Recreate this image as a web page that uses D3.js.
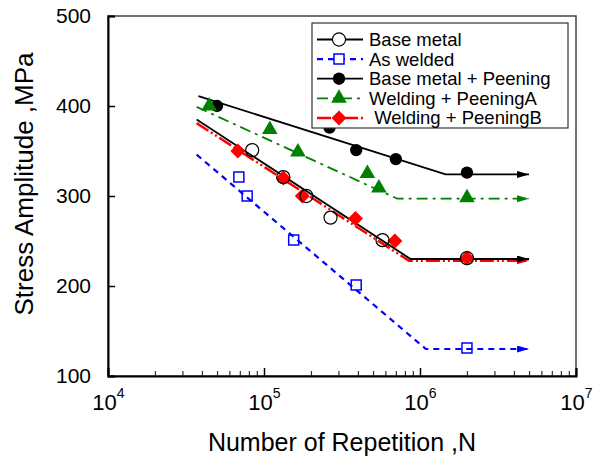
<!DOCTYPE html>
<html>
<head>
<meta charset="utf-8">
<script src="https://cdn.jsdelivr.net/npm/d3@7"></script>
<style>
  body { margin: 0; background: #fff; }
  text { font-family: "Liberation Sans", Arial, sans-serif; fill: #000; }
</style>
</head>
<body>
<svg id="chart" width="595" height="466"></svg>
<script>
// test points (cycles, stress amplitude MPa)
const baseN = [8.4e4, 1.33e5, 1.87e5, 2.67e5, 5.75e5, 2e6];
const baseS = [351, 321, 300, 276, 251, 231];
const weldN = [6.9e4, 7.8e4, 1.55e5, 3.9e5, 2e6];
const weldS = [321, 300, 251, 201, 131];
const basePeenN = [5e4, 2.63e5, 3.9e5, 7e5, 2e6];
const basePeenS = [400, 376, 351, 341, 326];
const peenAN = [4.45e4, 1.09e5, 1.65e5, 4.6e5, 5.45e5, 2e6];
const peenAS = [400, 374, 349, 325, 309, 298];
const peenBN = [6.8e4, 1.33e5, 1.76e5, 3.86e5, 6.9e5, 2e6];
const peenBS = [350, 320, 300, 275, 250, 231];

// S-N fit lines: start, knee, run-out arrow
const baseFitN = [3.7e4, 8.7e5, 5e6];
const baseFitS = [385, 230, 230];
const weldFitN = [3.7e4, 1.09e6, 5e6];
const weldFitS = [346, 130, 130];
const basePeenFitN = [3.8e4, 1.46e6, 5e6];
const basePeenFitS = [411, 324, 324];
const peenAFitN = [3.7e4, 7.15e5, 5e6];
const peenAFitS = [399, 297, 297];
const peenBFitN = [3.7e4, 8.5e5, 5e6];
const peenBFitS = [381, 228, 228];

const xTicks = [1e4, 1e5, 1e6, 1e7];
const yTicks = [100, 200, 300, 400, 500];

const series = [
  { name: "Base metal", n: baseN, s: baseS, fn: baseFitN, fs: baseFitS,
    color: "#000", dash: null, width: 1.8, shape: "circle", fill: "none" },
  { name: "As welded", n: weldN, s: weldS, fn: weldFitN, fs: weldFitS,
    color: "#0000ff", dash: "6,5", width: 2.2, shape: "square", fill: "none" },
  { name: "Base metal + Peening", n: basePeenN, s: basePeenS, fn: basePeenFitN, fs: basePeenFitS,
    color: "#000", dash: null, width: 1.8, shape: "circle", fill: "#000" },
  { name: "Welding + PeeningA", n: peenAN, s: peenAS, fn: peenAFitN, fs: peenAFitS,
    color: "#008000", dash: "11,5,3,5", width: 1.8, shape: "triangle", fill: "#008000" },
  { name: " Welding + PeeningB", n: peenBN, s: peenBS, fn: peenBFitN, fs: peenBFitS,
    color: "#ff0000", dash: "14,3,2,3,2,3", width: 2.5, shape: "diamond", fill: "#ff0000" }
];

const svg = d3.select("#chart");
const m = { left: 108, right: 19, top: 16, bottom: 90 };
const W = 595 - m.left - m.right;
const H = 466 - m.top - m.bottom;

const x = d3.scaleLog().domain([1e4, 1e7]).range([0, W]);
const y = d3.scaleLinear().domain([100, 500]).range([H, 0]);

const g = svg.append("g").attr("transform", `translate(${m.left},${m.top})`);

// arrow heads
const defs = svg.append("defs");
series.forEach((d, i) => {
  defs.append("marker")
    .attr("id", "arrow" + i)
    .attr("markerUnits", "userSpaceOnUse")
    .attr("markerWidth", 14).attr("markerHeight", 10)
    .attr("refX", 12).attr("refY", 3.5)
    .attr("orient", "auto")
    .append("path")
    .attr("d", "M0,0L12,3.5L0,7Z")
    .attr("fill", d.color);
});

// frame
g.append("rect")
  .attr("width", W).attr("height", H)
  .attr("fill", "none").attr("stroke", "#444").attr("stroke-width", 1.5);

// x axis, inward ticks with minors
const minor = [];
for (let e = 4; e < 7; e++) for (let k = 2; k < 10; k++) minor.push(k * Math.pow(10, e));

g.append("g")
  .attr("transform", `translate(0,${H})`)
  .call(d3.axisBottom(x).tickValues(minor).tickSize(-5).tickFormat(""))
  .call(a => a.select(".domain").remove())
  .call(a => a.selectAll("line").attr("stroke", "#333").attr("stroke-width", 1.2));

const xAxis = g.append("g")
  .attr("transform", `translate(0,${H})`)
  .call(d3.axisBottom(x).tickValues(xTicks).tickSize(-8).tickFormat(""));
xAxis.select(".domain").attr("stroke", "#000").attr("stroke-width", 2);
xAxis.selectAll("line").attr("stroke", "#000").attr("stroke-width", 1.5);

const xl = xAxis.selectAll(".tick").append("text")
  .attr("y", 34).attr("text-anchor", "middle")
  .style("font-size", "22px");
xl.append("tspan").text("10");
xl.append("tspan").attr("dy", -12).style("font-size", "14px")
  .text(d => Math.round(Math.log10(d)));

// y axis
const yAxis = g.append("g")
  .call(d3.axisLeft(y).tickValues(yTicks).tickSize(-7).tickPadding(17));
yAxis.select(".domain").attr("stroke", "#000").attr("stroke-width", 2);
yAxis.selectAll("line").attr("stroke", "#000").attr("stroke-width", 1.5);
yAxis.selectAll("text")
  .style("font-size", "21px")
  .style("font-family", '"Liberation Sans", Arial, sans-serif');

// axis titles
svg.append("text")
  .attr("x", m.left + W / 2).attr("y", 451)
  .attr("text-anchor", "middle")
  .style("font-size", "25px")
  .text("Number of Repetition ,N");

svg.append("text")
  .attr("transform", `translate(33,${m.top + H / 2 - 12}) rotate(-90)`)
  .attr("text-anchor", "middle")
  .style("font-size", "26px")
  .text("Stress Amplitude ,MPa");

// fit lines
const line = d3.line().x(d => x(d[0])).y(d => y(d[1]));
const drawOrder = [4, 3, 1, 0, 2];
drawOrder.forEach(i => {
  const d = series[i];
  g.append("path")
    .datum(d3.zip(d.fn, d.fs))
    .attr("d", line)
    .attr("fill", "none")
    .attr("stroke", d.color)
    .attr("stroke-width", d.width)
    .attr("stroke-dasharray", d.dash)
    .attr("marker-end", `url(#arrow${i})`);
});

// markers
const shapes = {
  circle: { type: d3.symbolCircle, size: 135, rot: 0 },
  square: { type: d3.symbolSquare, size: 100, rot: 0 },
  triangle: { type: d3.symbolTriangle, size: 105, rot: 0 },
  diamond: { type: d3.symbolSquare, size: 112, rot: 45 }
};
function sym(sel, d) {
  const sh = shapes[d.shape];
  const size = d.shape === "circle" && d.fill !== "none" ? 120 : sh.size;
  sel.attr("d", d3.symbol().type(sh.type).size(size)())
    .attr("fill", d.fill === "none" ? "none" : d.fill)
    .attr("stroke", d.fill === "none" ? d.color : "none")
    .attr("stroke-width", d.shape === "square" ? 1.5 : 1.2);
  return sel;
}

const markerOrder = [4, 1, 0, 2, 3];
markerOrder.forEach(i => {
  const d = series[i];
  g.append("g").selectAll("path")
    .data(d3.zip(d.n, d.s))
    .join("path")
    .attr("transform", p => `translate(${x(p[0])},${y(p[1])}) rotate(${shapes[d.shape].rot})`)
    .call(sym, d);
});

// legend
const lg = svg.append("g").attr("transform", "translate(312,23)");
lg.append("rect").attr("width", 256).attr("height", 105)
  .attr("fill", "#fff").attr("stroke", "#333").attr("stroke-width", 1.2);
series.forEach((d, i) => {
  const row = lg.append("g").attr("transform", `translate(0,${16.5 + i * 19.6})`);
  row.append("line")
    .attr("x1", 5).attr("x2", 51)
    .attr("stroke", d.color).attr("stroke-width", d.width)
    .attr("stroke-dasharray", d.dash);
  row.append("path")
    .attr("transform", `translate(27,0) rotate(${shapes[d.shape].rot})`)
    .call(sym, d)
    .attr("fill", d.fill === "none" ? "#fff" : d.fill);
  row.append("text")
    .attr("x", 57).attr("y", 6.5)
    .style("font-size", "18.5px")
    .style("white-space", "pre")
    .attr("xml:space", "preserve")
    .text(d.name);
});
</script>
</body>
</html>
